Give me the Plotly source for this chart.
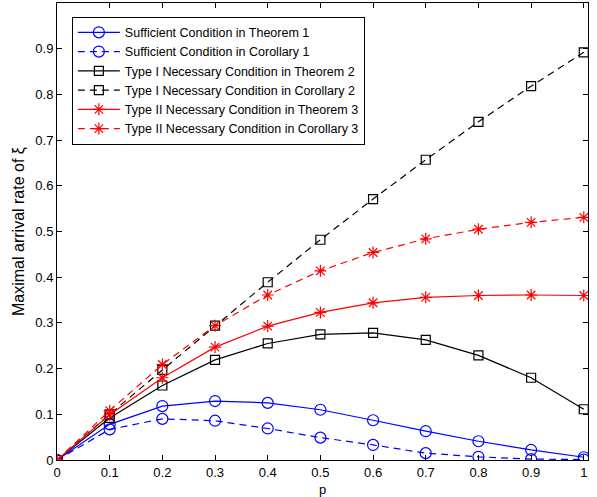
import plotly.graph_objects as go

p = [0, 0.1, 0.2, 0.3, 0.4, 0.5, 0.6, 0.7, 0.8, 0.9, 1.0]

suff_thm1 = [0, 0.078, 0.118, 0.129, 0.125, 0.110, 0.087, 0.063, 0.041, 0.022, 0.006]
suff_cor1 = [0, 0.067, 0.090, 0.086, 0.069, 0.049, 0.033, 0.015, 0.007, 0.002, 0.001]
type1_thm2 = [0, 0.092, 0.163, 0.219, 0.255, 0.275, 0.278, 0.263, 0.229, 0.180, 0.111]
type1_cor2 = [0, 0.100, 0.197, 0.294, 0.389, 0.482, 0.571, 0.657, 0.740, 0.818, 0.892]
type2_thm3 = [0, 0.099, 0.180, 0.247, 0.293, 0.323, 0.344, 0.356, 0.360, 0.361, 0.360]
type2_cor3 = [0, 0.108, 0.209, 0.294, 0.361, 0.414, 0.454, 0.484, 0.505, 0.520, 0.531]

names = [
    "Sufficient Condition in Theorem 1",
    "Sufficient Condition in Corollary 1",
    "Type I Necessary Condition in Theorem 2",
    "Type I Necessary Condition in Corollary 2",
    "Type II Necessary Condition in Theorem 3",
    "Type II Necessary Condition in Corollary 3",
]
series = [suff_thm1, suff_cor1, type1_thm2, type1_cor2, type2_thm3, type2_cor3]
colors = ["#0000ff", "#0000ff", "#000000", "#000000", "#ff0000", "#ff0000"]
dashes = ["solid", "7px,5px", "solid", "7px,5px", "solid", "7px,5px"]
symbols = ["circle-open", "circle-open", "square-open", "square-open", "asterisk-open", "asterisk-open"]
sizes = [11, 11, 9, 9, 10, 10]

xticks = [0, 0.1, 0.2, 0.3, 0.4, 0.5, 0.6, 0.7, 0.8, 0.9, 1]
xticktext = ["0", "0.1", "0.2", "0.3", "0.4", "0.5", "0.6", "0.7", "0.8", "0.9", "1"]
yticks = [0, 0.1, 0.2, 0.3, 0.4, 0.5, 0.6, 0.7, 0.8, 0.9, 1]
yticktext = ["0", "0.1", "0.2", "0.3", "0.4", "0.5", "0.6", "0.7", "0.8", "0.9", "1"]

fig = go.Figure()
for n, s, c, d, sym, sz in zip(names, series, colors, dashes, symbols, sizes):
    fig.add_trace(go.Scatter(
        x=p, y=s, name=n, mode="lines+markers",
        line=dict(color=c, width=1.2, dash=d),
        marker=dict(symbol=sym, size=sz, color=c, line=dict(color=c, width=1.2)),
    ))

fig.update_layout(
    width=597, height=497,
    margin=dict(l=57, r=9, t=3, b=37),
    paper_bgcolor="white", plot_bgcolor="white",
    font=dict(family="Liberation Sans, Arial, sans-serif", size=13, color="black"),
    showlegend=True,
    legend=dict(
        x=0.028, y=0.97, xanchor="left", yanchor="top",
        bgcolor="white", bordercolor="black", borderwidth=1,
        font=dict(size=12.5), tracegroupgap=0, itemwidth=42,
    ),
    xaxis=dict(
        range=[0, 1.008], tickvals=xticks, ticktext=xticktext,
        showline=True, linecolor="black", linewidth=1, mirror="ticks",
        ticks="inside", ticklen=5, tickcolor="black",
        showgrid=False, zeroline=False,
    ),
    yaxis=dict(
        range=[0, 1], tickvals=yticks, ticktext=yticktext,
        showline=True, linecolor="black", linewidth=1, mirror="ticks",
        ticks="inside", ticklen=5, tickcolor="black",
        showgrid=False, zeroline=False,
        title=dict(text="Maximal arrival rate of ξ", standoff=6),
    ),
    annotations=[dict(
        text="p", xref="paper", yref="paper", x=0.5, y=-0.064,
        xanchor="center", yanchor="middle", showarrow=False,
        font=dict(size=13),
    )],
)

fig.write_html("out.html", config={"displayModeBar": False},
               post_script="document.body.style.margin='0';")
